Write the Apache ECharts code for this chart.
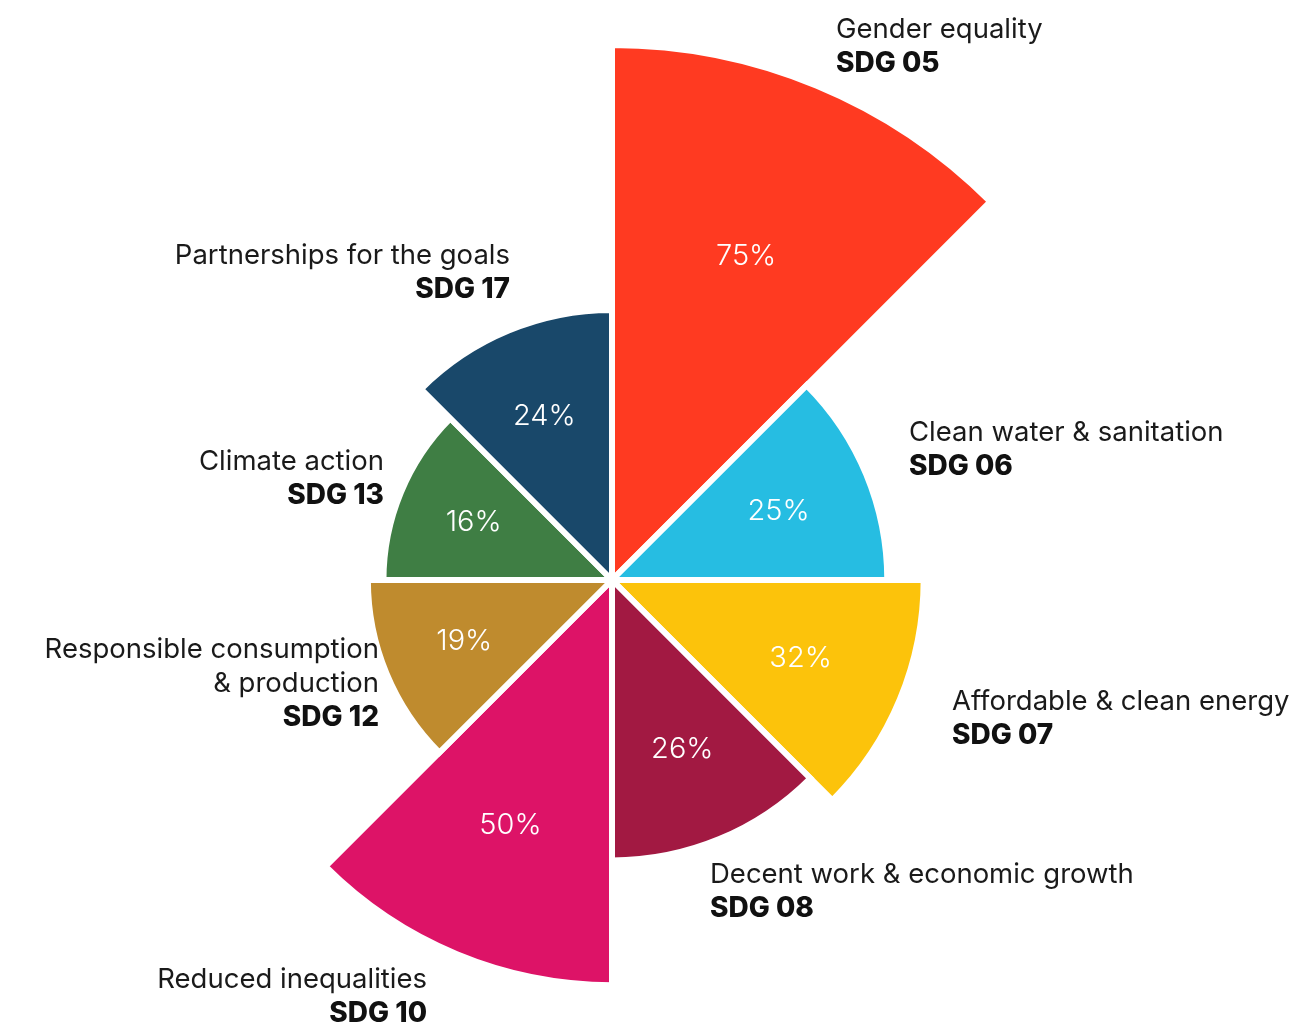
<!DOCTYPE html>
<html>
<head>
<meta charset="utf-8">
<title>Share of projects by Sustainable Development Goal</title>
<script src="https://cdn.jsdelivr.net/npm/echarts@6/dist/echarts.min.js"></script>
<style>
  html, body { margin: 0; padding: 0; background: #ffffff; }
  #chart { width: 1296px; height: 1027px; }
</style>
</head>
<body>
<div id="chart"></div>
<script>
// Goals, clockwise from twelve o'clock
const goals = ['SDG 05', 'SDG 06', 'SDG 07', 'SDG 08', 'SDG 10', 'SDG 12', 'SDG 13', 'SDG 17'];
const goalNames = [
  'Gender equality',
  'Clean water & sanitation',
  'Affordable & clean energy',
  'Decent work & economic growth',
  'Reduced inequalities',
  'Responsible consumption\n& production',
  'Climate action',
  'Partnerships for the goals'
];
// Share (%) per goal
const shares = [75, 25, 32, 26, 50, 19, 16, 24];

// Official SDG palette
const goalColors = ['#FF3A21', '#26BDE2', '#FCC30B', '#A21942', '#DD1367', '#BF8B2E', '#3F7E44', '#19486A'];

// Where each goal's caption sits: [x, top, align]
const captionLayout = [
  [836, 13, 'left'],
  [909, 416, 'left'],
  [952, 685, 'left'],
  [710, 858, 'left'],
  [427, 963, 'right'],
  [379, 633, 'right'],
  [384, 445, 'right'],
  [510, 239, 'right']
];

const FONT = 'Inter, "Open Sans", Lato, sans-serif';

const chart = echarts.init(document.getElementById('chart'), null, { renderer: 'canvas' });

const captions = goals.map((g, i) => ({
  type: 'text',
  x: captionLayout[i][0],
  y: captionLayout[i][1],
  z: 100,
  silent: true,
  style: {
    text: goalNames[i] + '\n{b|' + g + '}',
    align: captionLayout[i][2],
    verticalAlign: 'top',
    fill: '#1a1a1a',
    fontFamily: FONT,
    fontSize: 27.5,
    fontWeight: 400,
    lineHeight: 34,
    rich: {
      b: { fontFamily: FONT, fontSize: 28, fontWeight: 800, lineHeight: 34, fill: '#111111', color: '#111111' }
    }
  }
}));

chart.setOption({
  backgroundColor: '#ffffff',
  animation: false,
  polar: { center: [612, 580], radius: 535 },
  angleAxis: {
    type: 'category',
    data: goals,
    startAngle: 90,
    clockwise: true,
    axisLine: { show: false },
    axisTick: { show: false },
    axisLabel: { show: false },
    splitLine: { show: false }
  },
  radiusAxis: {
    type: 'value',
    min: -28,
    max: 75,
    startValue: -28,
    axisLine: { show: false },
    axisTick: { show: false },
    axisLabel: { show: false },
    splitLine: { show: false }
  },
  series: [
    {
      type: 'bar',
      coordinateSystem: 'polar',
      barCategoryGap: '0%',
      silent: true,
      data: shares.map((v, i) => ({ value: v, itemStyle: { color: goalColors[i] } })),
      itemStyle: { borderColor: '#ffffff', borderWidth: 6 }
    },
    {
      // percentage labels, two thirds of the way out along each sector
      type: 'custom',
      coordinateSystem: 'polar',
      silent: true,
      data: shares.map((v, i) => [v, i]),
      encode: { radius: 0, angle: 1 },
      z: 5,
      renderItem: function (params, api) {
        const p = api.coord([api.value(0), api.value(1)]);
        const cx = params.coordSys.cx;
        const cy = params.coordSys.cy;
        const f = 0.655;
        return {
          type: 'text',
          x: cx + (p[0] - cx) * f,
          y: cy + (p[1] - cy) * f,
          style: {
            text: api.value(0) + '%',
            fill: '#ffffff',
            fontFamily: FONT,
            fontSize: 29,
            fontWeight: 300,
            align: 'center',
            verticalAlign: 'middle'
          }
        };
      }
    }
  ],
  graphic: captions
});
</script>
</body>
</html>
